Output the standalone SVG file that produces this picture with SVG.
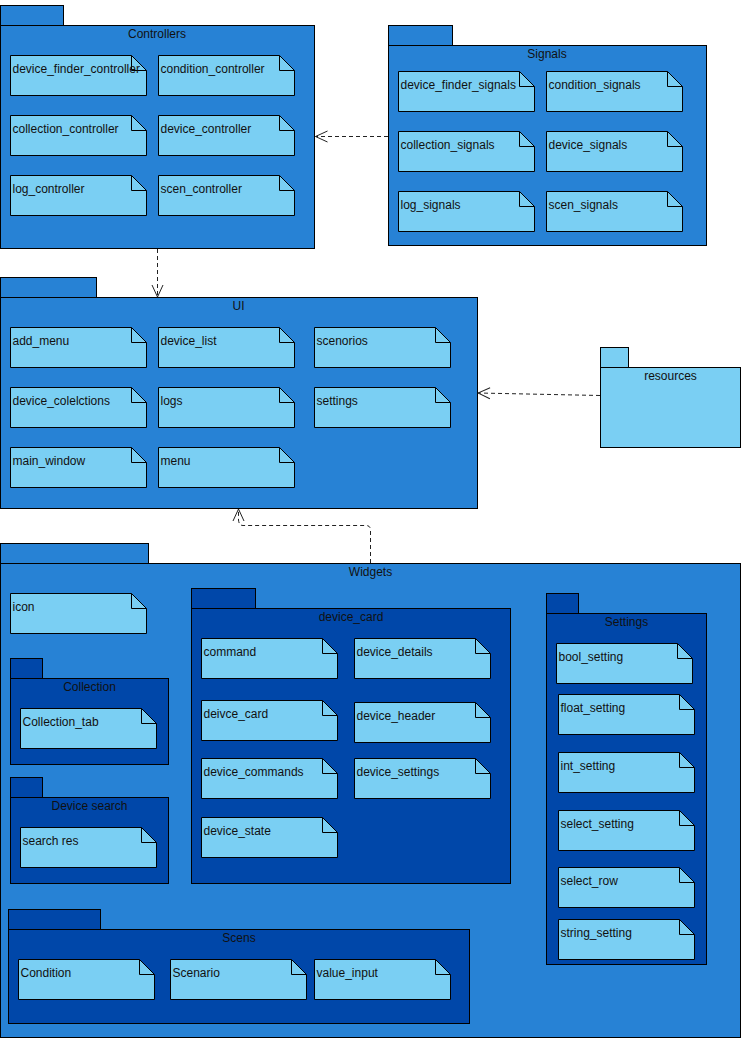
<svg xmlns="http://www.w3.org/2000/svg" width="747" height="1039" viewBox="0 0 747 1039">
<defs>
<style>
.pk{fill:#2782d5;stroke:#000;stroke-width:1}
.pi{fill:#0047a9;stroke:#000;stroke-width:1}
.pr{fill:#7acff3;stroke:#000;stroke-width:1}
.nt{fill:#7acff3;stroke:#000;stroke-width:1}
.fd{fill:none;stroke:#000;stroke-width:1}
text{font-family:"Liberation Sans",Arial,sans-serif;font-size:12px;fill:#111}
.tt{text-anchor:middle}
.cn{fill:none;stroke:#222;stroke-width:1;stroke-dasharray:4 3}
</style>
<marker id="arr" viewBox="0 0 14 14" refX="13" refY="7" markerWidth="14" markerHeight="14" markerUnits="userSpaceOnUse" orient="auto">
<path d="M1,1.5 L13,7 L1,12.5" fill="none" stroke="#222" stroke-width="1"/>
</marker>
</defs>
<rect width="747" height="1039" fill="#fff"/>

<g id="controllers">
<rect class="pk" x="0.5" y="5.5" width="63" height="20"/>
<rect class="pk" x="0.5" y="25.5" width="314" height="223"/>
<text class="tt" x="157" y="38">Controllers</text>
<g id="n-device_finder_controller"><path class="nt" d="M10.5,55.5h121l15,15v25h-136z"/><path class="fd" d="M131.5,55.5v15h15"/><text x="12.5" y="72.5">device_finder_controller</text></g>
<g id="n-condition_controller"><path class="nt" d="M158.5,55.5h121l15,15v25h-136z"/><path class="fd" d="M279.5,55.5v15h15"/><text x="160.5" y="72.5">condition_controller</text></g>
<g id="n-collection_controller"><path class="nt" d="M10.5,115.5h121l15,15v25h-136z"/><path class="fd" d="M131.5,115.5v15h15"/><text x="12.5" y="132.5">collection_controller</text></g>
<g id="n-device_controller"><path class="nt" d="M158.5,115.5h121l15,15v25h-136z"/><path class="fd" d="M279.5,115.5v15h15"/><text x="160.5" y="132.5">device_controller</text></g>
<g id="n-log_controller"><path class="nt" d="M10.5,175.5h121l15,15v25h-136z"/><path class="fd" d="M131.5,175.5v15h15"/><text x="12.5" y="192.5">log_controller</text></g>
<g id="n-scen_controller"><path class="nt" d="M158.5,175.5h121l15,15v25h-136z"/><path class="fd" d="M279.5,175.5v15h15"/><text x="160.5" y="192.5">scen_controller</text></g>
</g>

<g id="signals">
<rect class="pk" x="388.5" y="25.5" width="64" height="20"/>
<rect class="pk" x="388.5" y="45.5" width="318" height="200"/>
<text class="tt" x="547" y="58">Signals</text>
<g id="n-device_finder_signals"><path class="nt" d="M398.5,71.5h121l15,15v25h-136z"/><path class="fd" d="M519.5,71.5v15h15"/><text x="400.5" y="88.5">device_finder_signals</text></g>
<g id="n-condition_signals"><path class="nt" d="M546.5,71.5h121l15,15v25h-136z"/><path class="fd" d="M667.5,71.5v15h15"/><text x="548.5" y="88.5">condition_signals</text></g>
<g id="n-collection_signals"><path class="nt" d="M398.5,131.5h121l15,15v25h-136z"/><path class="fd" d="M519.5,131.5v15h15"/><text x="400.5" y="148.5">collection_signals</text></g>
<g id="n-device_signals"><path class="nt" d="M546.5,131.5h121l15,15v25h-136z"/><path class="fd" d="M667.5,131.5v15h15"/><text x="548.5" y="148.5">device_signals</text></g>
<g id="n-log_signals"><path class="nt" d="M398.5,191.5h121l15,15v25h-136z"/><path class="fd" d="M519.5,191.5v15h15"/><text x="400.5" y="208.5">log_signals</text></g>
<g id="n-scen_signals"><path class="nt" d="M546.5,191.5h121l15,15v25h-136z"/><path class="fd" d="M667.5,191.5v15h15"/><text x="548.5" y="208.5">scen_signals</text></g>
</g>

<g id="ui">
<rect class="pk" x="0.5" y="277.5" width="96" height="20"/>
<rect class="pk" x="0.5" y="297.5" width="477" height="211"/>
<text class="tt" x="238.5" y="310">UI</text>
<g id="n-add_menu"><path class="nt" d="M10.5,327.5h121l15,15v25h-136z"/><path class="fd" d="M131.5,327.5v15h15"/><text x="12.5" y="344.5">add_menu</text></g>
<g id="n-device_list"><path class="nt" d="M158.5,327.5h121l15,15v25h-136z"/><path class="fd" d="M279.5,327.5v15h15"/><text x="160.5" y="344.5">device_list</text></g>
<g id="n-scenorios"><path class="nt" d="M314.5,327.5h121l15,15v25h-136z"/><path class="fd" d="M435.5,327.5v15h15"/><text x="316.5" y="344.5">scenorios</text></g>
<g id="n-device_colelctions"><path class="nt" d="M10.5,387.5h121l15,15v25h-136z"/><path class="fd" d="M131.5,387.5v15h15"/><text x="12.5" y="404.5">device_colelctions</text></g>
<g id="n-logs"><path class="nt" d="M158.5,387.5h121l15,15v25h-136z"/><path class="fd" d="M279.5,387.5v15h15"/><text x="160.5" y="404.5">logs</text></g>
<g id="n-settings"><path class="nt" d="M314.5,387.5h121l15,15v25h-136z"/><path class="fd" d="M435.5,387.5v15h15"/><text x="316.5" y="404.5">settings</text></g>
<g id="n-main_window"><path class="nt" d="M10.5,447.5h121l15,15v25h-136z"/><path class="fd" d="M131.5,447.5v15h15"/><text x="12.5" y="464.5">main_window</text></g>
<g id="n-menu"><path class="nt" d="M158.5,447.5h121l15,15v25h-136z"/><path class="fd" d="M279.5,447.5v15h15"/><text x="160.5" y="464.5">menu</text></g>
</g>

<g id="resources">
<rect class="pr" x="600.5" y="347.5" width="28" height="20"/>
<rect class="pr" x="600.5" y="367.5" width="140" height="80"/>
<text class="tt" x="670.5" y="380">resources</text>
</g>

<g id="widgets">
<rect class="pk" x="0.5" y="543.5" width="148" height="20"/>
<rect class="pk" x="0.5" y="563.5" width="740" height="474"/>
<text class="tt" x="370.5" y="576">Widgets</text>
<g id="n-icon"><path class="nt" d="M10.5,593.5h121l15,15v25h-136z"/><path class="fd" d="M131.5,593.5v15h15"/><text x="12.5" y="610.5">icon</text></g>
</g>

<g id="collection">
<rect class="pi" x="10.5" y="658.5" width="32" height="20"/>
<rect class="pi" x="10.5" y="678.5" width="158" height="86"/>
<text class="tt" x="89.5" y="691">Collection</text>
<g id="n-Collection_tab"><path class="nt" d="M20.5,708.5h121l15,15v25h-136z"/><path class="fd" d="M141.5,708.5v15h15"/><text x="22.5" y="725.5">Collection_tab</text></g>
</g>

<g id="device_search">
<rect class="pi" x="10.5" y="777.5" width="32" height="20"/>
<rect class="pi" x="10.5" y="797.5" width="158" height="86"/>
<text class="tt" x="89.5" y="810">Device search</text>
<g id="n-search_res"><path class="nt" d="M20.5,827.5h121l15,15v25h-136z"/><path class="fd" d="M141.5,827.5v15h15"/><text x="22.5" y="844.5">search res</text></g>
</g>

<g id="device_card">
<rect class="pi" x="191.5" y="588.5" width="64" height="20"/>
<rect class="pi" x="191.5" y="608.5" width="319" height="275"/>
<text class="tt" x="351" y="621">device_card</text>
<g id="n-command"><path class="nt" d="M201.5,638.5h121l15,15v25h-136z"/><path class="fd" d="M322.5,638.5v15h15"/><text x="203.5" y="655.5">command</text></g>
<g id="n-device_details"><path class="nt" d="M354.5,638.5h121l15,15v25h-136z"/><path class="fd" d="M475.5,638.5v15h15"/><text x="356.5" y="655.5">device_details</text></g>
<g id="n-deivce_card"><path class="nt" d="M201.5,700.5h121l15,15v25h-136z"/><path class="fd" d="M322.5,700.5v15h15"/><text x="203.5" y="717.5">deivce_card</text></g>
<g id="n-device_header"><path class="nt" d="M354.5,702.5h121l15,15v25h-136z"/><path class="fd" d="M475.5,702.5v15h15"/><text x="356.5" y="719.5">device_header</text></g>
<g id="n-device_commands"><path class="nt" d="M201.5,758.5h121l15,15v25h-136z"/><path class="fd" d="M322.5,758.5v15h15"/><text x="203.5" y="775.5">device_commands</text></g>
<g id="n-device_settings"><path class="nt" d="M354.5,758.5h121l15,15v25h-136z"/><path class="fd" d="M475.5,758.5v15h15"/><text x="356.5" y="775.5">device_settings</text></g>
<g id="n-device_state"><path class="nt" d="M201.5,817.5h121l15,15v25h-136z"/><path class="fd" d="M322.5,817.5v15h15"/><text x="203.5" y="834.5">device_state</text></g>
</g>

<g id="settings_pkg">
<rect class="pi" x="546.5" y="593.5" width="32" height="20"/>
<rect class="pi" x="546.5" y="613.5" width="160" height="351"/>
<text class="tt" x="626.5" y="626">Settings</text>
<g id="n-bool_setting"><path class="nt" d="M556.5,643.5h121l15,15v25h-136z"/><path class="fd" d="M677.5,643.5v15h15"/><text x="558.5" y="660.5">bool_setting</text></g>
<g id="n-float_setting"><path class="nt" d="M558.5,694.5h121l15,15v25h-136z"/><path class="fd" d="M679.5,694.5v15h15"/><text x="560.5" y="711.5">float_setting</text></g>
<g id="n-int_setting"><path class="nt" d="M558.5,752.5h121l15,15v25h-136z"/><path class="fd" d="M679.5,752.5v15h15"/><text x="560.5" y="769.5">int_setting</text></g>
<g id="n-select_setting"><path class="nt" d="M558.5,810.5h121l15,15v25h-136z"/><path class="fd" d="M679.5,810.5v15h15"/><text x="560.5" y="827.5">select_setting</text></g>
<g id="n-select_row"><path class="nt" d="M558.5,867.5h121l15,15v25h-136z"/><path class="fd" d="M679.5,867.5v15h15"/><text x="560.5" y="884.5">select_row</text></g>
<g id="n-string_setting"><path class="nt" d="M558.5,919.5h121l15,15v25h-136z"/><path class="fd" d="M679.5,919.5v15h15"/><text x="560.5" y="936.5">string_setting</text></g>
</g>

<g id="scens">
<rect class="pi" x="8.5" y="909.5" width="92" height="20"/>
<rect class="pi" x="8.5" y="929.5" width="461" height="94"/>
<text class="tt" x="239" y="942">Scens</text>
<g id="n-Condition"><path class="nt" d="M18.5,959.5h121l15,15v25h-136z"/><path class="fd" d="M139.5,959.5v15h15"/><text x="20.5" y="976.5">Condition</text></g>
<g id="n-Scenario"><path class="nt" d="M170.5,959.5h121l15,15v25h-136z"/><path class="fd" d="M291.5,959.5v15h15"/><text x="172.5" y="976.5">Scenario</text></g>
<g id="n-value_input"><path class="nt" d="M314.5,959.5h121l15,15v25h-136z"/><path class="fd" d="M435.5,959.5v15h15"/><text x="316.5" y="976.5">value_input</text></g>
</g>

<g id="connectors">
<path class="cn" d="M388,136.5 L315.5,136.5" marker-end="url(#arr)"/>
<path class="cn" d="M157.5,249 L157.5,297" marker-end="url(#arr)"/>
<path class="cn" d="M600,395.5 L478,393" marker-end="url(#arr)"/>
<path class="cn" d="M370.5,563 L370.5,530 Q370.5,525.5 366,525.5 L243,525.5 Q239,525.5 238.5,520 L238.5,509" marker-end="url(#arr)"/>
</g>
</svg>
